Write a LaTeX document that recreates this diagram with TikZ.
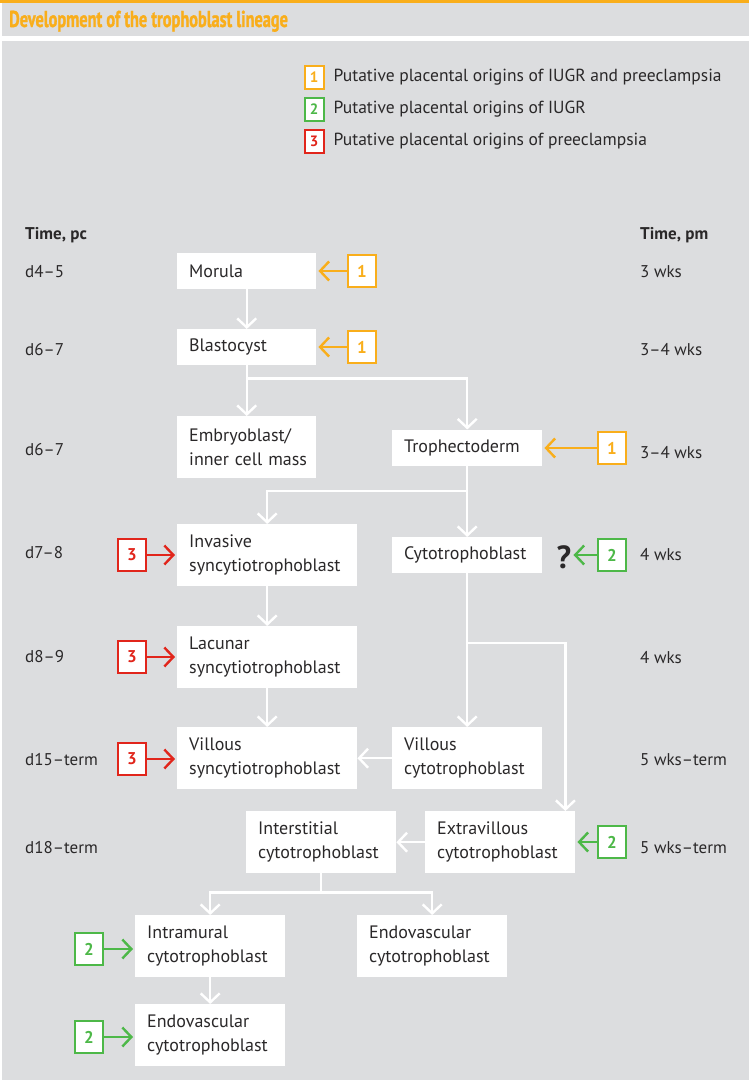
\documentclass[tikz,border=0pt]{standalone}
\usepackage{fontspec}
\setmainfont{PT Sans}
\newfontfamily\titlefont[FakeStretch=0.71, FakeBold=1.2]{PT Sans}
\usetikzlibrary{arrows.meta, calc, positioning}
\definecolor{tbOrange}{HTML}{F9AE1B}
\definecolor{tbGreen}{HTML}{4DB848}
\definecolor{tbRed}{HTML}{E1251B}
\definecolor{tbGrey}{HTML}{DCDDDF}
\definecolor{tbInk}{HTML}{2A2829}
\tikzset{
  cell/.style        = {fill=white, anchor=north west, inner xsep=12pt, inner ysep=0pt,
                        align=left, text=tbInk, font=\fontsize{18}{24}\selectfont},
  cellS/.style       = {cell, text width=115pt},
  cellM/.style       = {cell, text width=126pt},
  cellL/.style       = {cell, text width=156pt},
  oneline/.style     = {minimum height=36pt},
  twoline/.style     = {minimum height=62pt},
  joinline/.style    = {white, line width=2.4pt},
  flowarrow/.style   = {joinline, -{Straight Barb[length=9pt, width=19pt]}},
  originarrow/.style = {#1, line width=2.4pt, shorten >=2pt,
                        -{Straight Barb[length=9pt, width=19pt]}},
  numbox/.style      = {draw=#1, text=#1, fill=white, line width=2.4pt,
                        minimum width=28pt, minimum height=32pt, inner sep=0pt,
                        font=\fontsize{17}{17}\selectfont\bfseries},
  keybox/.style      = {numbox=#1, line width=2pt, minimum width=19pt,
                        minimum height=23pt, font=\fontsize{15}{15}\selectfont\bfseries},
  keytext/.style     = {text=tbInk, inner sep=0pt, font=\fontsize{17.5}{20}\selectfont},
  timelbl/.style     = {anchor=base west, inner sep=0pt, text=tbInk,
                        font=\fontsize{17}{20}\selectfont},
}
\begin{document}
\begin{tikzpicture}[x=1pt, y=-1pt]
  % page, title band and panel
  \useasboundingbox (0,0) rectangle (749,1084);
  \fill[white] (0,0) rectangle (749,1084);
  \fill[tbOrange] (0,0) rectangle (749,2.5);
  \fill[tbGrey] (2,2.5) rectangle (749,36);
  \fill[tbGrey] (2,41) rectangle (749,1080);
  \node[anchor=base west, inner sep=0pt, text=tbOrange,
        font=\titlefont\fontsize{23}{23}\selectfont\bfseries] (title) at (9,27)
        {Development of the trophoblast lineage};

  % legend
  \node[keybox=tbOrange] (key1) at (314,77.5) {1};
  \node[keybox=tbGreen]  (key2) at (314,109.5) {2};
  \node[keybox=tbRed]    (key3) at (314,141.5) {3};
  \node[keytext, right=9pt of key1] (keyt1) {Putative placental origins of IUGR and preeclampsia};
  \node[keytext, right=9pt of key2] (keyt2) {Putative placental origins of IUGR};
  \node[keytext, right=9pt of key3] (keyt3) {Putative placental origins of preeclampsia};

  % time columns
  \node[timelbl, font=\fontsize{17}{20}\selectfont\bfseries] (pchead) at (25,239) {Time, pc};
  \node[timelbl, font=\fontsize{17}{20}\selectfont\bfseries] (pmhead) at (640,239) {Time, pm};
  \foreach \yy/\txt in {277/d4–5, 355/d6–7, 455/d6–7, 558/d7–8, 662/d8–9,
                        765/d15–term, 853/d18–term}
    \node[timelbl] at (25,\yy) {\txt};
  \foreach \yy/\txt in {277/3 wks, 355/3–4 wks, 458/3–4 wks, 560/4 wks, 663/4 wks,
                        765/5 wks–term, 853/5 wks–term}
    \node[timelbl] at (640,\yy) {\txt};

  % cells
  \node[cellS, oneline] (morula)   at (177,253)   {Morula};
  \node[cellS, oneline] (blasto)   at (177,329)   {Blastocyst};
  \node[cellS, twoline] (embryo)   at (177,416)   {Embryoblast/\\\mbox{inner cell mass}};
  \node[cellM, oneline] (tropho)   at (392,429.5) {Trophectoderm};
  \node[cellM, oneline] (cyto)     at (392,537)   {Cytotrophoblast};
  \node[cellL, twoline] (invasive) at (177,524)   {Invasive\\syncytiotrophoblast};
  \node[cellL, twoline] (lacunar)  at (177,626)   {Lacunar\\syncytiotrophoblast};
  \node[cellL, twoline] (villsyn)  at (177,727)   {Villous\\syncytiotrophoblast};
  \node[cellM, twoline] (villcyto) at (392,727)   {Villous\\cytotrophoblast};
  \node[cellM, twoline] (inter)    at (246,811)   {Interstitial\\cytotrophoblast};
  \node[cellM, twoline] (extra)    at (425,811)   {Extravillous\\cytotrophoblast};
  \node[cellM, twoline] (intra)    at (135,915)   {Intramural\\cytotrophoblast};
  \node[cellM, twoline] (endoR)    at (357,915)   {Endovascular\\cytotrophoblast};
  \node[cellM, twoline] (endoB)    at (135,1004)  {Endovascular\\cytotrophoblast};

  % origin markers
  \node[numbox=tbOrange] (n1a) at (362,271) {1};
  \node[numbox=tbOrange] (n1b) at (362,347) {1};
  \node[numbox=tbOrange] (n1c) at (612,448) {1};
  \node[numbox=tbGreen]  (n2a) at (612,555) {2};
  \node[numbox=tbGreen]  (n2b) at (612,842) {2};
  \node[numbox=tbGreen]  (n2c) at (89,949)  {2};
  \node[numbox=tbGreen]  (n2d) at (89,1037) {2};
  \node[numbox=tbRed]    (n3a) at (132,555) {3};
  \node[numbox=tbRed]    (n3b) at (132,657) {3};
  \node[numbox=tbRed]    (n3c) at (132,759) {3};
  \node[inner sep=0pt, text=tbInk, font=\fontsize{32}{32}\selectfont\bfseries]
        (query) at (564,557) {?};

  \draw[originarrow=tbOrange] (n1a.west) -- (n1a.west -| morula.east);
  \draw[originarrow=tbOrange] (n1b.west) -- (n1b.west -| blasto.east);
  \draw[originarrow=tbOrange] (n1c.west) -- (n1c.west -| tropho.east);
  \draw[originarrow=tbGreen]  (n2a.west) -- (n2a.west -| query.east);
  \draw[originarrow=tbGreen]  (n2b.west) -- (n2b.west -| extra.east);
  \draw[originarrow=tbGreen]  (n2c.east) -- (n2c.east -| intra.west);
  \draw[originarrow=tbGreen]  (n2d.east) -- (n2d.east -| endoB.west);
  \draw[originarrow=tbRed]    (n3a.east) -- (n3a.east -| invasive.west);
  \draw[originarrow=tbRed]    (n3b.east) -- (n3b.east -| lacunar.west);
  \draw[originarrow=tbRed]    (n3c.east) -- (n3c.east -| villsyn.west);

  % lineage connectors
  \coordinate (split1) at ($(blasto.south)+(0,13)$);
  \coordinate (split2) at (tropho.south |- 0,491);
  \coordinate (split3) at (cyto.south |- 0,643);
  \coordinate (evtop)  at ($(extra.north east)+(-10,0)$);
  \coordinate (split4) at ($(inter.south)+(0,19)$);
  \draw[flowarrow] (morula.south) -- (blasto.north);
  \draw[joinline]  (blasto.south) -- (split1);
  \draw[flowarrow] (split1) -- (embryo.north);
  \draw[flowarrow] (split1) -| (tropho.north);
  \draw[flowarrow] (tropho.south) -- (cyto.north);
  \draw[flowarrow] (split2) -| (invasive.north);
  \draw[flowarrow] (invasive.south) -- (lacunar.north);
  \draw[flowarrow] (lacunar.south) -- (villsyn.north);
  \draw[flowarrow] (cyto.south) -- (villcyto.north);
  \draw[flowarrow] (split3) -| (evtop);
  \draw[flowarrow] (villcyto.west) -- (villsyn.east);
  \draw[flowarrow] (extra.west) -- (inter.east);
  \draw[joinline]  (inter.south) -- (split4);
  \draw[flowarrow] (split4) -| (intra.north);
  \draw[flowarrow] (split4) -| (endoR.north);
  \draw[flowarrow] (intra.south) -- (endoB.north);
\end{tikzpicture}
\end{document}
